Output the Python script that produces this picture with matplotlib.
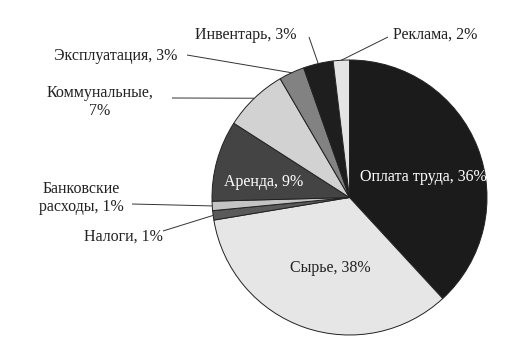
import numpy as np
import matplotlib
matplotlib.use("Agg")
import matplotlib.pyplot as plt

# Data (clockwise from 12 o'clock)
categories = ["Оплата труда", "Сырье", "Налоги", "Банковские\nрасходы", "Аренда",
              "Коммунальные", "Эксплуатация", "Инвентарь", "Реклама"]
label_pct = [36, 38, 1, 1, 9, 7, 3, 3, 2]           # printed percentages
shares = [38.1, 34.2, 1.1, 1.1, 9.5, 7.5, 3.0, 3.5, 1.9]  # drawn slice sizes
colors = ["#1b1b1b", "#e6e6e6", "#5a5a5a", "#c4c4c4", "#444444",
          "#d2d2d2", "#828282", "#1e1e1e", "#e4e4e4"]

W, H = 509, 352
fig = plt.figure(figsize=(W / 100, H / 100), dpi=100)
ax = fig.add_axes([0, 0, 1, 1])
cx, cy, R = 349.5, H - 197.5, 137.5

wedges, _ = ax.pie(shares, colors=colors, startangle=90, counterclock=False,
                   center=(cx, cy), radius=R,
                   wedgeprops=dict(edgecolor="#222222", linewidth=0.7))
ax.set_xlim(0, W)
ax.set_ylim(0, H)
ax.set_aspect("equal")
ax.axis("off")

FONT = ["Liberation Serif", "DejaVu Serif"]
FS = 11.5
tc = "#222222"

def lab(i, sep=", "):
    name = categories[i]
    if i == 5:
        return f"{name},\n{label_pct[i]}%"
    return f"{name}{sep}{label_pct[i]}%"

# inside labels: (index, x, y, color)
inside = [(0, 423, 177, "white"), (4, 264, 182, "white"), (1, 330, 268, tc)]
for i, x, y, c in inside:
    ax.text(x, H - y, lab(i), ha="center", va="center", fontsize=FS,
            family=FONT, color=c)

# outside labels: index, text pos, text ha, line end point
outside = [
    (8, 393, 35, "left", (388, 37)),
    (7, 297, 35, "right", (309, 37)),
    (6, 177, 56, "right", (187, 55)),
    (5, 100, 102, "center", (172, 98)),
    (3, 81, 198, "center", (132, 204)),
    (2, 163, 237, "right", (163, 231)),
]
for i, x, y, ha, (lx, ly) in outside:
    w = wedges[i]
    mid = np.deg2rad((w.theta1 + w.theta2) / 2)
    px, py = cx + R * np.cos(mid), cy + R * np.sin(mid)
    ax.plot([px, lx], [py, H - ly], color="#333333", lw=0.7, solid_capstyle="butt")
    ax.text(x, H - y, lab(i), ha=ha, va="center", fontsize=FS, family=FONT,
            color=tc, linespacing=1.15, multialignment="center")

fig.savefig("out.png", dpi=100)
